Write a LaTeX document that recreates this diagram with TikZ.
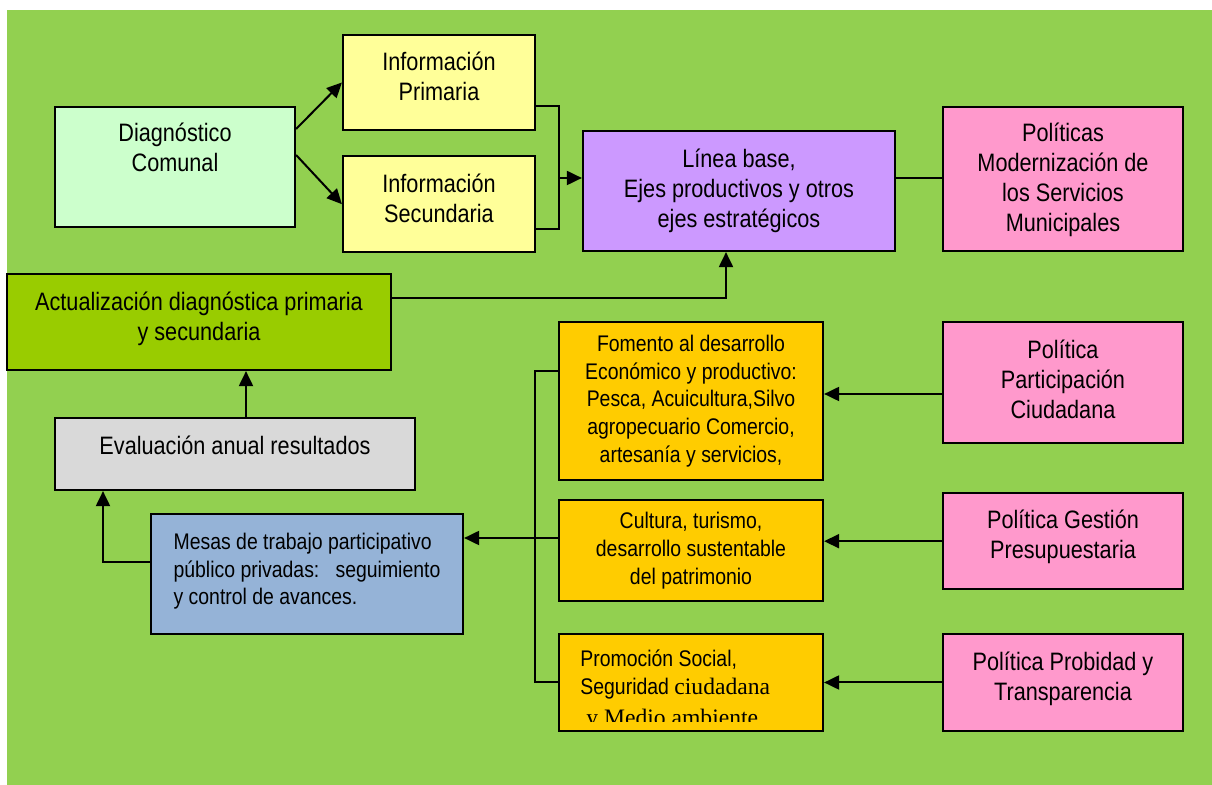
\documentclass[tikz,border=0pt]{standalone}
\usepackage{fontspec}
\setmainfont{Liberation Sans}[FakeStretch=0.86]
\newfontfamily\tmsfont{Liberation Serif}
\usetikzlibrary{arrows.meta, positioning}
\definecolor{fondo}{HTML}{92D050}
\definecolor{menta}{HTML}{CCFFCC}
\definecolor{crema}{HTML}{FFFF99}
\definecolor{lila}{HTML}{CC99FF}
\definecolor{rosa}{HTML}{FF99CC}
\definecolor{oliva}{HTML}{99CC00}
\definecolor{gris}{HTML}{D9D9D9}
\definecolor{celeste}{HTML}{95B3D7}
\definecolor{ambar}{HTML}{FFCC00}
\newcommand{\grande}{\fontsize{12.6pt}{15pt}\selectfont}
\newcommand{\chico}{\fontsize{11.3pt}{13.8pt}\selectfont}
\newcommand{\romana}{\tmsfont\fontsize{11.8pt}{13.8pt}\selectfont}
\tikzset{
  caja/.style   ={draw, line width=1.1pt, inner sep=0pt, align=center, font=\grande},
  cajita/.style ={caja, font=\chico},
  lin/.style    ={line width=1pt},
  flecha/.style ={lin, -{Triangle[length=7.5pt,width=7pt]}},
}
\begin{document}
\begin{tikzpicture}[x=0.5pt, y=-0.5pt]
  \useasboundingbox (0,0) rectangle (1212,785);
  \fill[fondo] (7,10) rectangle (1212,785);

  % diagnostico, informacion, linea base
  \node[caja, fill=menta, minimum width=120pt, minimum height=60pt, text depth=20pt] (diag) at (175,167) {Diagnóstico\\Comunal};
  \node[caja, fill=crema, minimum width=96pt, minimum height=47.5pt, text depth=6.5pt] (prim) at (439,82.5) {Información\\Primaria};
  \node[caja, fill=crema, minimum width=96pt, minimum height=48pt, text depth=6pt, below=12pt of prim] (sec) {Información\\Secundaria};
  \node[caja, fill=lila, minimum width=156pt, minimum height=60pt, text depth=2.5pt] (linea) at (739,191) {Línea base,\\Ejes productivos y otros\\ejes estratégicos};
  \node[caja, fill=rosa, minimum width=120pt, minimum height=72pt, text depth=1.5pt] (modern) at (1063,179) {Políticas\\Modernización de\\los Servicios\\Municipales};

  % ciclo de evaluacion
  \node[caja, fill=oliva, minimum width=192pt, minimum height=48pt, text depth=5.5pt] (actual) at (199,322) {Actualización diagnóstica primaria\\y secundaria};
  \node[caja, fill=gris, minimum width=180pt, minimum height=36pt, text depth=9pt] (eval) at (235,454) {Evaluación anual resultados};
  \node[cajita, fill=celeste, align=left, minimum width=156pt, minimum height=60pt, text depth=5pt] (mesas) at (307,574) {Mesas de trabajo participativo\\público privadas:\ \ \ seguimiento\\y control de avances.};

  % ejes
  \node[cajita, fill=ambar, minimum width=132pt, minimum height=79pt] (fomento) at (691,401) {Fomento al desarrollo\\Económico y productivo:\\Pesca, Acuicultura,Silvo\\agropecuario Comercio,\\artesanía y servicios,};
  \node[cajita, fill=ambar, minimum width=132pt, minimum height=50.5pt, below=9pt of fomento] (cultura) {Cultura, turismo,\\desarrollo sustentable\\del patrimonio};
  \node[cajita, fill=ambar, minimum width=132pt, minimum height=48.5pt] (promo) at (691,682.5) {};
  \begin{scope}
    \clip (promo.north west) rectangle ([yshift=5.5pt]promo.south east);
    \node[anchor=base west, inner sep=0pt, font=\chico] (promotxt) at (580,667)
      {\parbox[t]{125pt}{\raggedright Promoción Social,\\Seguridad {\romana ciudadana}\\[1.8pt]\hspace*{3pt}{\romana y Medio ambiente}}};
  \end{scope}

  % politicas
  \node[caja, fill=rosa, minimum width=120pt, minimum height=60.5pt, text depth=3.5pt] (partic) at (1063,382.5) {Política\\Participación\\Ciudadana};
  \node[caja, fill=rosa, minimum width=120pt, minimum height=48pt, text depth=7pt, below=24pt of partic] (gestion) {Política Gestión\\Presupuestaria};
  \node[caja, fill=rosa, minimum width=120pt, minimum height=48.5pt, text depth=6pt] (probidad) at (1063,682.5) {Política Probidad y\\Transparencia};

  % conexiones
  \coordinate (j1) at (559,178);
  \coordinate (j2) at (535,538);
  \coordinate (pa) at ([yshift=-5.75pt]partic.west);
  \draw[flecha] ([yshift=19pt]diag.east) -- (prim.west);
  \draw[flecha] ([yshift=6pt]diag.east) -- (sec.west);
  \draw[lin] ([yshift=-12pt]prim.east) -| (j1);
  \draw[lin] ([yshift=-12.5pt]sec.east) -| (j1);
  \draw[flecha] (j1) -- (linea.west |- j1);
  \draw[lin] (linea.east |- j1) -- (modern.west |- j1);
  \draw[flecha] ([yshift=12pt]actual.east) -| ([xshift=-6.5pt]linea.south);
  \draw[flecha] ([xshift=5.5pt]eval.north) -- ([xshift=5.5pt]eval.north |- actual.south);
  \draw[flecha] ([yshift=6pt]mesas.west) -| ([xshift=-66pt]eval.south);
  \draw[lin] ([yshift=15pt]fomento.west) -| (j2);
  \draw[lin] (promo.west) -| (j2);
  \draw[lin] (cultura.west |- j2) -- (j2);
  \draw[flecha] (j2) -- (mesas.east |- j2);
  \draw[flecha] (pa) -- (fomento.east |- pa);
  \draw[flecha] (gestion.west) -- (cultura.east |- gestion.west);
  \draw[flecha] (probidad.west) -- (promo.east |- probidad.west);
\end{tikzpicture}
\end{document}
